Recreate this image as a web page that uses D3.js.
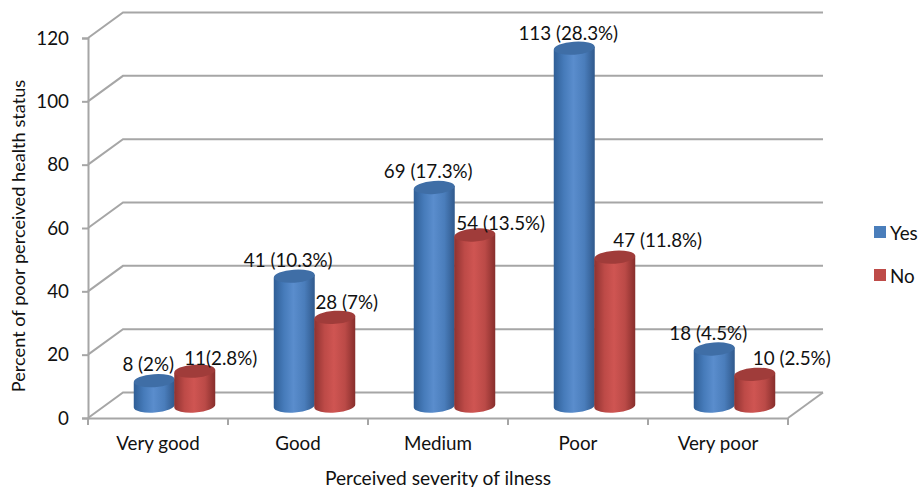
<!DOCTYPE html>
<html>
<head>
<meta charset="utf-8">
<style>
  body { margin: 0; background: #fff; }
  text { font-family: Lato, "Open Sans", sans-serif; fill: #111; }
</style>
</head>
<body>
<div id="container"></div>
<script src="https://d3js.org/d3.v7.min.js"></script>
<script>
  const categories = ["Very good", "Good", "Medium", "Poor", "Very poor"];
  const seriesNames = ["Yes", "No"];
  const yesValues = [8, 41, 69, 113, 18];
  const noValues = [11, 28, 54, 47, 10];
  const yesLabels = ["8 (2%)", "41 (10.3%)", "69 (17.3%)", "113 (28.3%)", "18 (4.5%)"];
  const noLabels = ["11(2.8%)", "28 (7%)", "54 (13.5%)", "47 (11.8%)", "10 (2.5%)"];
  const yTicks = [0, 20, 40, 60, 80, 100, 120];

  const width = 919, height = 487;
  const depth = { x: 35, y: -25.5 };   // how far the back wall sits from the front
  const baseLift = 12;                 // cylinders stand on the middle of the floor
  const rx = 20.5, ry = 6.5;
  const fontSize = "18.8px";

  const svg = d3.select("#container").append("svg")
    .attr("width", width).attr("height", height)
    .style("display", "block");

  const x = d3.scaleBand().domain(categories).range([88, 788]);
  const x1 = d3.scaleBand().domain(seriesNames).range([0, 81]);
  const y = d3.scaleLinear().domain([0, 120]).range([418, 38]);

  const defs = svg.append("defs");
  const ramps = {
    Yes: ["#2f5e96", "#467bba", "#5a8dcd", "#4a7dbb", "#30598c"],
    No: ["#8f3230", "#bd4a47", "#cf5552", "#bb4a47", "#872e2c"]
  };
  seriesNames.forEach(s => {
    const g = defs.append("linearGradient").attr("id", "grad" + s);
    ramps[s].forEach((c, i) => {
      g.append("stop").attr("offset", [0, 0.25, 0.48, 0.75, 1][i]).attr("stop-color", c);
    });
  });

  // back wall and floor
  const wall = svg.append("g").attr("fill", "none").attr("stroke", "#a6a6a6").attr("stroke-width", 2);
  yTicks.forEach(t => {
    wall.append("path").attr("d", d3.line()([
      [x.range()[0], y(t)],
      [x.range()[0] + depth.x, y(t) + depth.y],
      [x.range()[1] + depth.x, y(t) + depth.y]
    ]));
  });
  wall.append("path").attr("d", d3.line()([
    [x.range()[1], y(0)],
    [x.range()[1] + depth.x, y(0) + depth.y]
  ]));

  // axes
  const yAxis = svg.append("g").attr("transform", "translate(88,0)")
    .call(d3.axisLeft(y).tickValues(yTicks).tickSize(6).tickPadding(13));
  const xAxis = svg.append("g").attr("transform", "translate(0,418)")
    .call(d3.axisBottom(x).tickSize(0).tickPadding(19));
  xAxis.selectAll(".sep").data(d3.range(categories.length + 1)).enter().append("line")
    .attr("class", "sep")
    .attr("x1", i => x.range()[0] + i * x.step()).attr("x2", i => x.range()[0] + i * x.step())
    .attr("y1", 0).attr("y2", 7);
  [yAxis, xAxis].forEach(a => {
    a.selectAll(".domain, line").attr("stroke", "#a6a6a6").attr("stroke-width", 2);
    a.selectAll("text").style("font-size", fontSize).attr("fill", "#111")
      .style("font-family", 'Lato, "Open Sans", sans-serif');
  });

  // cylinders, drawn left to right so the red one overlaps the blue edge
  const bars = [];
  categories.forEach((c, i) => {
    bars.push({ s: "Yes", c, v: yesValues[i], label: yesLabels[i] });
    bars.push({ s: "No", c, v: noValues[i], label: noLabels[i] });
  });
  const cx = d => x(d.c) + 46 + x1(d.s) + x1.bandwidth() / 2;
  const topY = d => y(d.v) - baseLift;
  const baseY = y(0) - baseLift;

  const bar = svg.append("g").selectAll("g").data(bars).enter().append("g");
  bar.append("path")
    .attr("fill", d => `url(#grad${d.s})`)
    .attr("d", d => {
      const a = cx(d) - rx, b = cx(d) + rx, t = topY(d);
      return `M${a},${t + 1.5}L${a},${baseY + 1.5}A${rx},${ry} -4 0 0 ${b},${baseY - 1.5}L${b},${t - 1.5}Z`;
    });
  bar.append("ellipse")
    .attr("cx", cx).attr("cy", topY)
    .attr("rx", rx).attr("ry", ry)
    .attr("transform", d => `rotate(-4 ${cx(d)} ${topY(d)})`)
    .attr("fill", d => d.s === "Yes" ? "#3f6ea6" : "#a03c3a");

  // data labels, nudged the way the original has them
  const labelNudgeX = { Yes: [-6, -6, -6, -6, -6], No: [26, 12, 26, 43, 37] };
  const labelNudgeY = { Yes: [-17, -17, -17, -16, -17], No: [-14, -16, -13, -18, -17] };
  svg.append("g").selectAll("text").data(bars).enter().append("text")
    .attr("x", d => cx(d) + labelNudgeX[d.s][categories.indexOf(d.c)])
    .attr("y", d => topY(d) + labelNudgeY[d.s][categories.indexOf(d.c)])
    .attr("text-anchor", "middle").attr("dominant-baseline", "central")
    .style("font-size", fontSize)
    .text(d => d.label);

  // titles
  svg.append("text").attr("transform", "translate(18,236) rotate(-90)")
    .attr("text-anchor", "middle").attr("dominant-baseline", "central")
    .style("font-size", "18.2px").text("Percent of poor perceived health status");
  svg.append("text").attr("x", 438).attr("y", 477)
    .attr("text-anchor", "middle").attr("dominant-baseline", "central")
    .style("font-size", "19.2px").text("Perceived severity of ilness");

  // legend
  const legend = svg.append("g").selectAll("g").data(seriesNames).enter().append("g")
    .attr("transform", (d, i) => `translate(874,${226 + i * 43})`);
  legend.append("rect").attr("width", 12).attr("height", 12)
    .attr("fill", d => d === "Yes" ? "#4a7ebb" : "#be4b48");
  legend.append("text").attr("x", 16).attr("y", 6)
    .attr("dominant-baseline", "central").style("font-size", fontSize).text(d => d);
</script>
</body>
</html>
